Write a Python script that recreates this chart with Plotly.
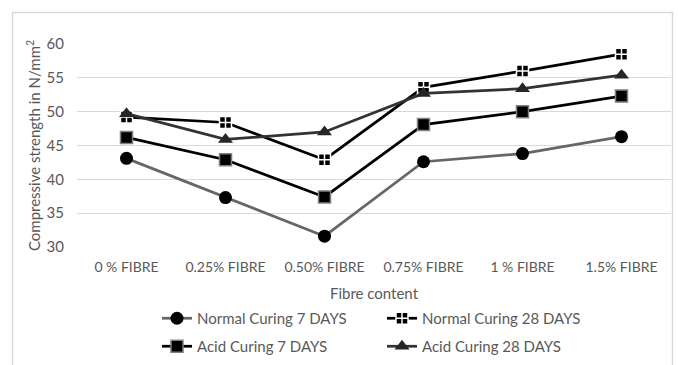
import plotly.graph_objects as go

categories = ["0 % FIBRE", "0.25% FIBRE", "0.50% FIBRE", "0.75% FIBRE", "1 % FIBRE", "1.5% FIBRE"]
normal_7 = [43.1, 37.3, 31.6, 42.6, 43.8, 46.3]
normal_28 = [49.2, 48.4, 42.9, 53.6, 56.0, 58.5]
acid_7 = [46.2, 42.9, 37.4, 48.1, 50.0, 52.3]
acid_28 = [49.7, 45.9, 47.0, 52.7, 53.4, 55.4]
y_ticks = [30, 35, 40, 45, 50, 55, 60]

FONT = "Lato"
fig = go.Figure()

fig.add_trace(go.Scatter(x=categories, y=normal_7, name="Normal Curing 7 DAYS", mode="lines+markers",
                         line=dict(color="#666666", width=2.75),
                         marker=dict(symbol="circle", size=13, color="black", line=dict(width=0)),
                         legend="legend"))
fig.add_trace(go.Scatter(x=categories, y=normal_28, name="Normal Curing 28 DAYS", mode="lines+markers",
                         line=dict(color="black", width=2.75),
                         marker=dict(symbol="square-cross", size=12, color="black", line=dict(width=1.5, color="white")),
                         legend="legend"))
fig.add_trace(go.Scatter(x=categories, y=acid_7, name="Acid Curing 7 DAYS", mode="lines+markers",
                         line=dict(color="black", width=2.75),
                         marker=dict(symbol="square", size=12, color="black", line=dict(width=1.5, color="#808080")),
                         legend="legend2"))
fig.add_trace(go.Scatter(x=categories, y=acid_28, name="Acid Curing 28 DAYS", mode="lines+markers",
                         line=dict(color="#333333", width=2.75),
                         marker=dict(symbol="triangle-up", size=13, color="#262626", line=dict(width=0)),
                         legend="legend2"))

W, H = 678, 365
L, R, T, B = 77, 7, 44, 118
pw, ph = W - L - R, H - T - B

def px(x):
    return (x - L) / pw

def py(y):
    return (H - B - y) / ph

fig.update_layout(
    width=W, height=H,
    margin=dict(l=L, r=R, t=T, b=B, autoexpand=False),
    paper_bgcolor="white", plot_bgcolor="white",
    font=dict(family=FONT, color="#595959", size=13),
    xaxis=dict(range=[-0.5, 5.5], showgrid=False, showline=False, zeroline=False, ticks="", automargin=False,
               tickfont=dict(size=14, color="#595959"), ticklabelstandoff=10,
               title=dict(text="Fibre content", font=dict(size=15, color="#595959"), standoff=14)),
    yaxis=dict(range=[30, 60], tickvals=y_ticks, showgrid=True, gridcolor="#d9d9d9", gridwidth=1,
               zeroline=False, showline=False, ticks="", ticklabelstandoff=12, automargin=False,
               tickfont=dict(size=15, color="#595959"),
               title=dict(text="Compressive strength in N/mm<sup>2</sup>", font=dict(size=15, color="#595959"), standoff=2)),
    legend=dict(orientation="h", x=px(157), y=py(302), xanchor="left", yanchor="top",
                entrywidth=180, entrywidthmode="pixels", font=dict(size=15, color="#595959"),
                bgcolor="rgba(0,0,0,0)", itemclick=False),
    legend2=dict(orientation="h", x=px(157), y=py(330), xanchor="left", yanchor="top",
                 entrywidth=180, entrywidthmode="pixels", font=dict(size=15, color="#595959"),
                 bgcolor="rgba(0,0,0,0)", itemclick=False),
    showlegend=True,
)

fig.add_shape(type="rect", xref="paper", yref="paper",
              x0=px(12.5), x1=px(672.5), y0=py(375), y1=py(12.5),
              line=dict(color="#d9d9d9", width=1.5), fillcolor="rgba(0,0,0,0)", layer="below")

fig.write_html("out.html")
